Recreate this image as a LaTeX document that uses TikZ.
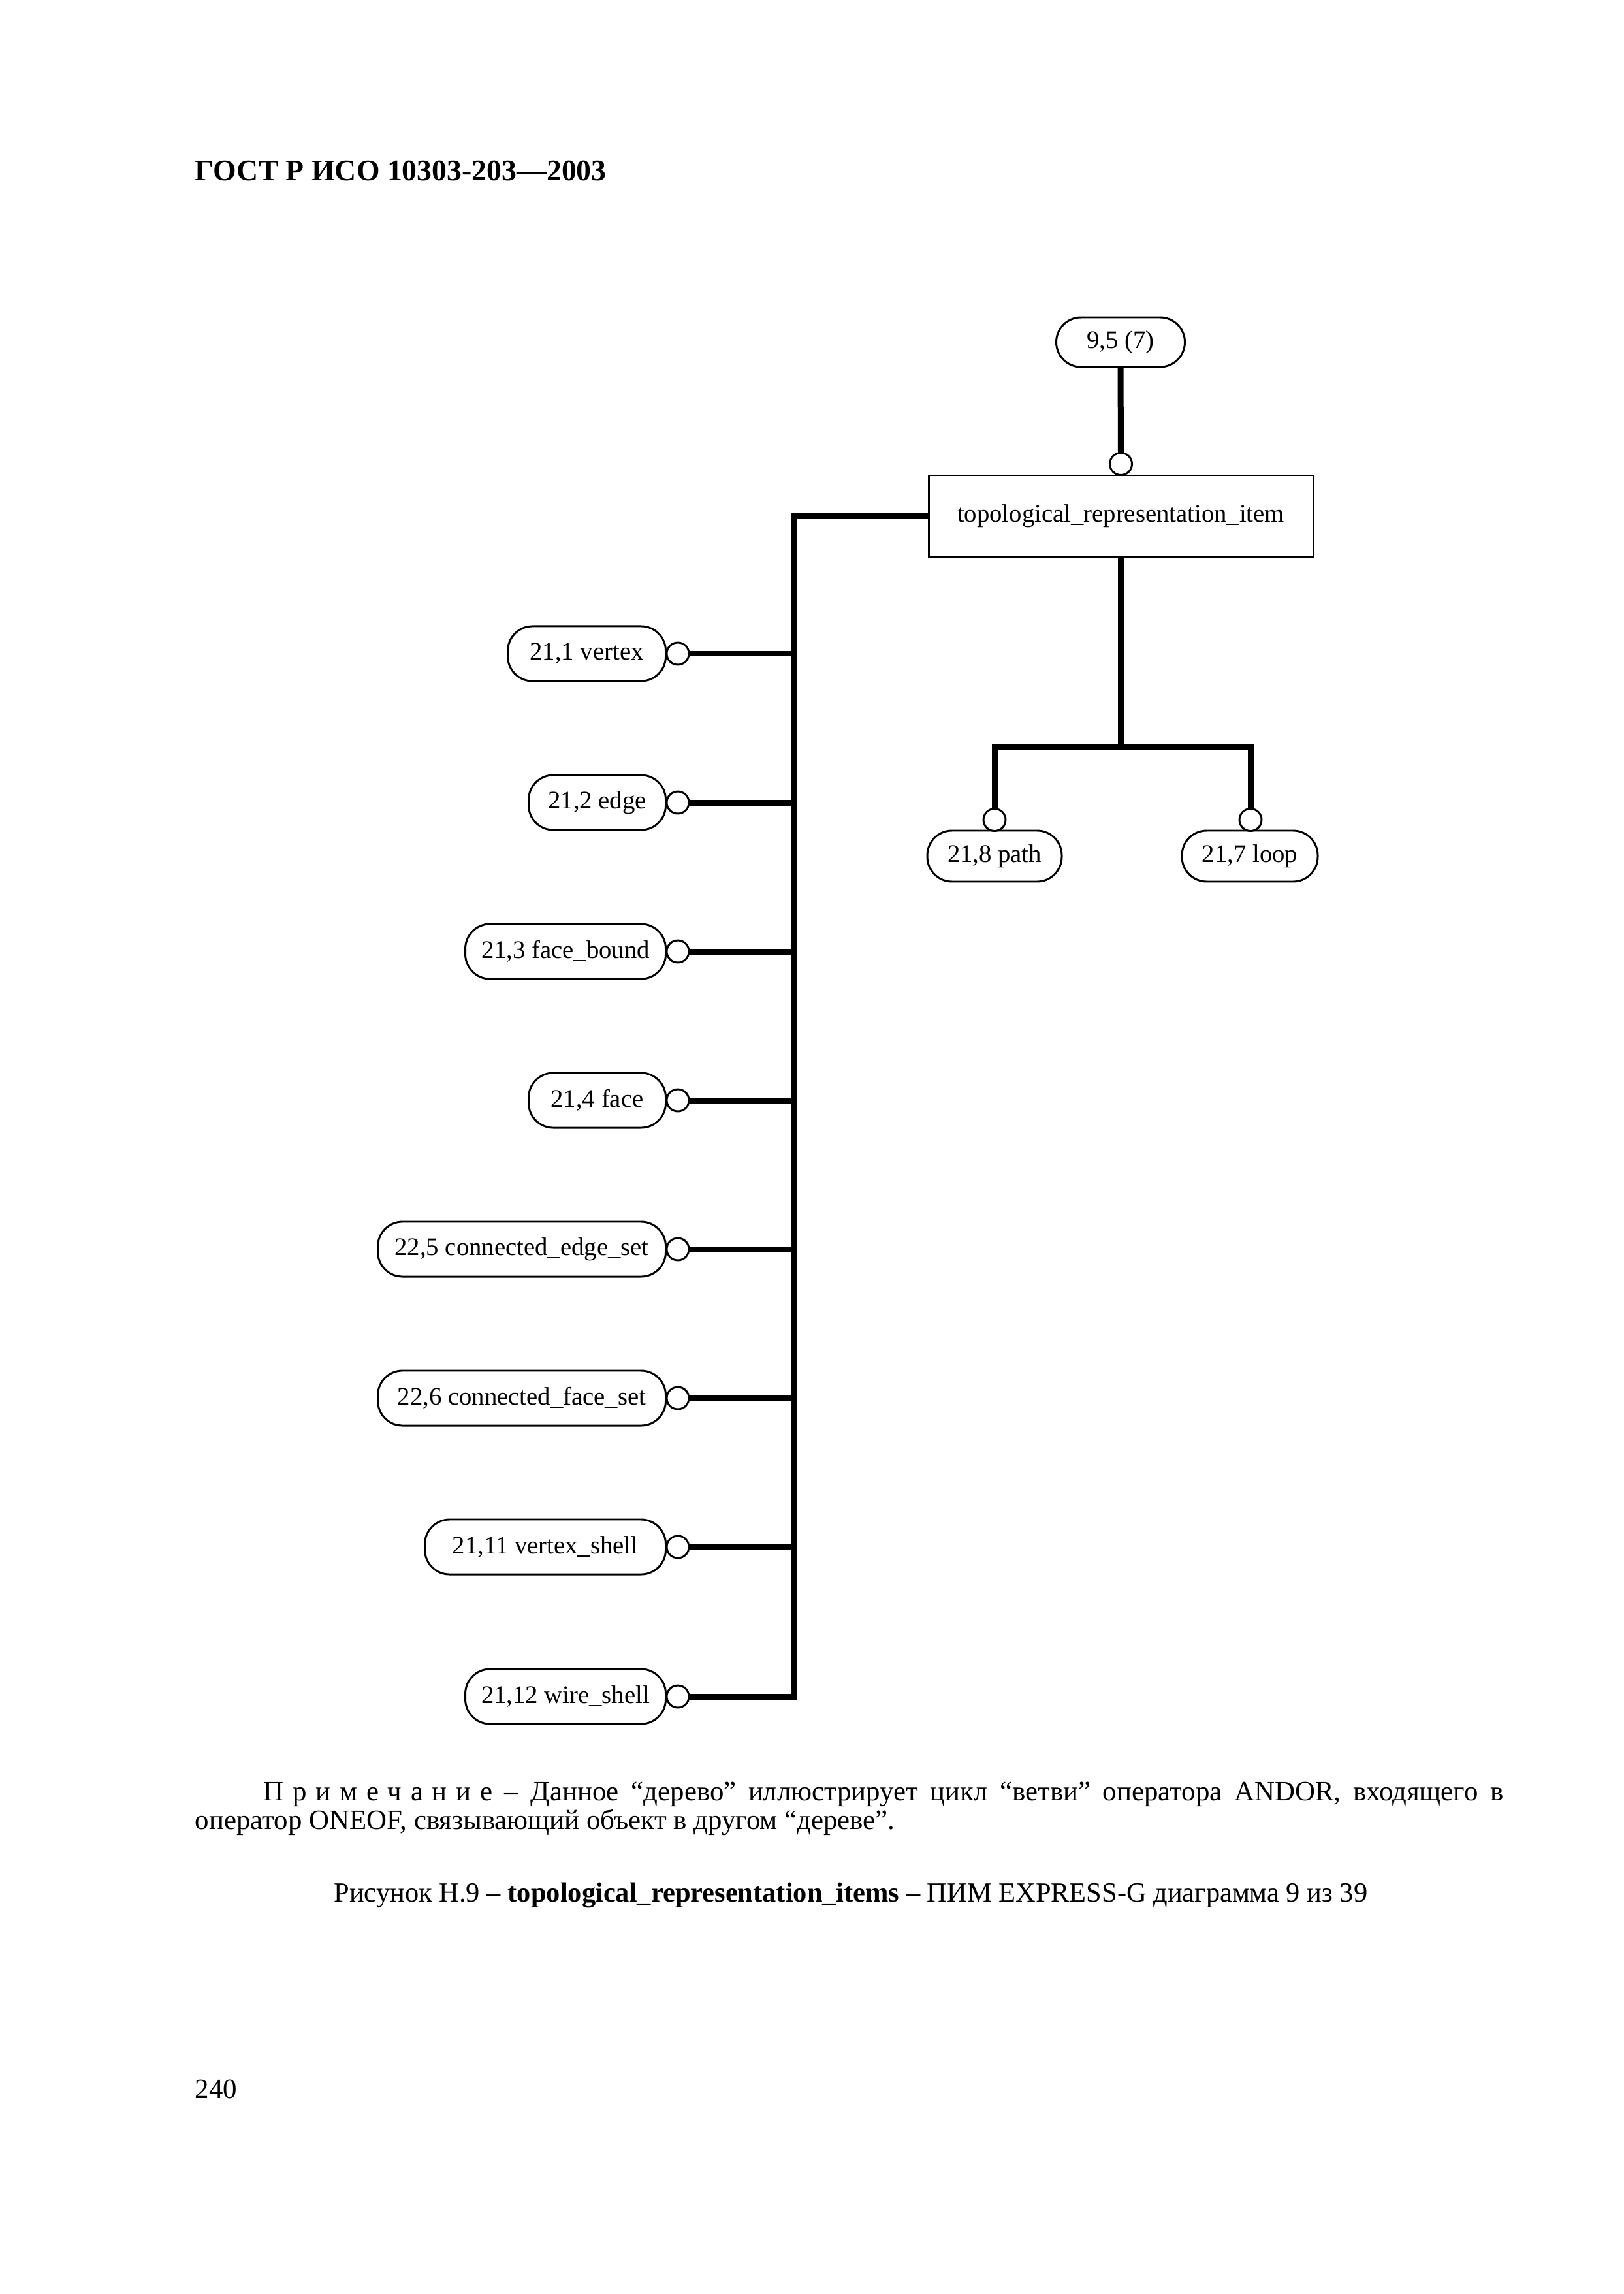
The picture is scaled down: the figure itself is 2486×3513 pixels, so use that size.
\documentclass[tikz,border=0pt]{standalone}
\usepackage{fontspec}
\setmainfont{Liberation Serif}
\begin{document}
\begin{tikzpicture}[x=0.08447mm, y=-0.08447mm,
  ent/.style={draw, line width=0.25mm, rounded corners=3.2mm, minimum height=7.1mm, inner sep=0pt, font=\fontsize{9.3}{11}\selectfont},
  ebox/.style={draw, line width=0.25mm, inner sep=0pt, font=\fontsize{9.3}{11}\selectfont},
  ring/.style={circle, draw, line width=0.25mm, fill=white, minimum size=2.87mm, inner sep=0pt},
  bus/.style={line width=0.76mm, line join=miter},
  txt/.style={inner sep=0pt, font=\fontsize{10.3}{12}\selectfont}]
\useasboundingbox (0,0) rectangle (2486,3513);
\fill[white] (0,0) rectangle (2486,3513);

% header
\node[inner sep=0pt, anchor=base west, font=\bfseries\fontsize{11}{13}\selectfont] (hdr) at (298,277) {ГОСТ Р ИСО 10303-203—2003};

% junction coordinates
\coordinate (bt) at (1216,790.5);
\coordinate (j1) at (1216,1001);
\coordinate (j2) at (1216,1229);
\coordinate (j3) at (1216,1457);
\coordinate (j4) at (1216,1685);
\coordinate (j5) at (1216,1913);
\coordinate (j6) at (1216,2141);
\coordinate (j7) at (1216,2369);
\coordinate (j8) at (1216,2598);
\coordinate (rb) at (1716.5,1144);
\coordinate (rl) at (1523,1144);
\coordinate (rr) at (1915,1144);

% nodes
\node[ent, minimum width=16.64mm, minimum height=6.42mm] (top) at (1716,524) {9,5 (7)};
\node[ebox, minimum width=49.75mm, minimum height=10.56mm] (tri) at (1716.5,790.5) {\raisebox{0.5mm}{topological\_representation\_item}};

\node[ent, minimum width=20.44mm, anchor=east] (L1) at (1021,1001) {21,1 vertex};
\node[ent, minimum width=17.74mm, anchor=east] (L2) at (1021,1229) {21,2 edge};
\node[ent, minimum width=25.93mm, anchor=east] (L3) at (1021,1457) {21,3 face\_bound};
\node[ent, minimum width=17.74mm, anchor=east] (L4) at (1021,1685) {21,4 face};
\node[ent, minimum width=37.25mm, anchor=east] (L5) at (1021,1913) {22,5 connected\_edge\_set};
\node[ent, minimum width=37.25mm, anchor=east] (L6) at (1021,2141) {22,6 connected\_face\_set};
\node[ent, minimum width=31.17mm, anchor=east] (L7) at (1021,2369) {21,11 vertex\_shell};
\node[ent, minimum width=25.93mm, anchor=east] (L8) at (1021,2598) {21,12 wire\_shell};

\node[ent, minimum width=17.40mm, minimum height=6.59mm] (P) at (1523,1311) {21,8 path};
\node[ent, minimum width=17.57mm, minimum height=6.59mm] (Lp) at (1914,1311) {21,7 loop};

% connectors
\draw[bus] (top.south) -- (1716.5,700);
\draw[bus] (tri.south) -- (rb);
\draw[bus] (1523,1240) -- (rl) -- (rr) -- (1915,1240);
\draw[bus] (1040,2598) -- (j8) -- (bt) -- (tri.west);
\foreach \i/\y in {1/1001,2/1229,3/1457,4/1685,5/1913,6/2141,7/2369}
  \draw[bus] (1040,\y) -- (j\i);

% circles
\node[ring] (c0) at (1716.5,710.5) {};
\node[ring] (oP) at (1523,1255.5) {};
\node[ring] (oL) at (1915,1255.5) {};
\node[ring] (o1) at (1038,1001) {};
\node[ring] (o2) at (1038,1229) {};
\node[ring] (o3) at (1038,1457) {};
\node[ring] (o4) at (1038,1685) {};
\node[ring] (o5) at (1038,1913) {};
\node[ring] (o6) at (1038,2141) {};
\node[ring] (o7) at (1038,2369) {};
\node[ring] (o8) at (1038,2598) {};

% note
\node[txt, anchor=base west] (n1) at (403,2757) {\hbox to 160.4mm{П\hspace{.32em}р\hspace{.32em}и\hspace{.32em}м\hspace{.32em}е\hspace{.32em}ч\hspace{.32em}а\hspace{.32em}н\hspace{.32em}и\hspace{.32em}е – Данное “дерево” иллюстрирует цикл “ветви” оператора ANDOR, входящего в}};
\node[txt, anchor=base west] (n2) at (298,2801) {оператор ONEOF, связывающий объект в другом “дереве”.};

% caption
\node[txt, anchor=base, font=\fontsize{10.2}{12}\selectfont] (cap) at (1303,2912) {Рисунок Н.9 – \textbf{topological\_representation\_items} – ПИМ EXPRESS-G диаграмма 9 из 39};

% page number
\node[txt, anchor=base west] (pg) at (298,3213) {240};
\end{tikzpicture}
\end{document}
